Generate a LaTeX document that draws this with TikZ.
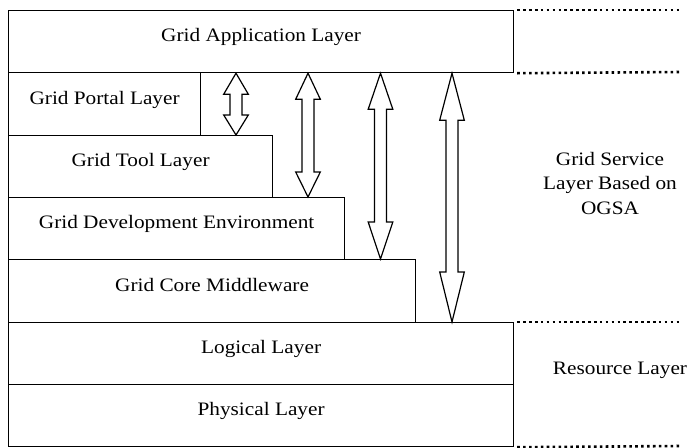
\documentclass[tikz,border=0pt]{standalone}
\usepackage{fontspec}
\setmainfont{Liberation Serif}[FakeStretch=1.12]
\usetikzlibrary{calc}

% outlined double-headed block arrow between two named points
% #1 top point, #2 bottom point, #3 top head length, #4 bottom head length
\newcommand\blockarrow[4]{%
  \draw[blockarr] let \p1=(#1), \p2=(#2) in
    (\p1) -- (\x1+12.3pt,\y1-#3pt) -- (\x1+6pt,\y1-#3pt)
    -- (\x1+6pt,\y2+#4pt) -- (\x1+12.3pt,\y2+#4pt) -- (\p2)
    -- (\x1-12.3pt,\y2+#4pt) -- (\x1-6pt,\y2+#4pt)
    -- (\x1-6pt,\y1-#3pt) -- (\x1-12.3pt,\y1-#3pt) -- cycle;}

\begin{document}
\begin{tikzpicture}[x=1pt,y=-1pt,
  every node/.style={font=\fontsize{19}{24.5}\selectfont},
  layer/.style={draw=black, line width=1.2pt, anchor=north west, inner sep=0pt,
                text height=7pt, text depth=7pt},
  sidetext/.style={align=center, inner sep=0pt},
  dotline/.style={line width=2.6pt, dash pattern=on 2.6pt off 3.3pt},
  blockarr/.style={draw=black, fill=white, line width=1.2pt, miter limit=20}]

\useasboundingbox (0,0) rectangle (692,447);

% stacked layers
\node[layer, minimum width=505pt, minimum height=62pt] (app)      at (8,10)  {Grid Application Layer};
\node[layer, minimum width=192pt, minimum height=63pt] (portal)   at (8,72)  {Grid Portal Layer};
\node[layer, minimum width=264pt, minimum height=62pt] (tool)     at (8,135) {Grid Tool Layer};
\node[layer, minimum width=336pt, minimum height=62pt] (dev)      at (8,197) {Grid Development Environment};
\node[layer, minimum width=407pt, minimum height=63pt] (core)     at (8,259) {Grid Core Middleware};
\node[layer, minimum width=505pt, minimum height=62pt] (logical)  at (8,322) {Logical Layer};
\node[layer, minimum width=505pt, minimum height=62pt] (physical) at (8,384) {Physical Layer};

% dotted guide lines on the right
\coordinate (d1) at (680,10);
\coordinate (d2) at (680,72);
\coordinate (d3) at (680,322);
\coordinate (d4) at (680,446);
\draw[dotline] ($(app.north east)+(3,0)$) -- (d1);
\draw[dotline] ($(app.south east)+(3,0)$) -- (d2);
\draw[dotline] ($(logical.north east)+(3,0)$) -- (d3);
\draw[dotline] ($(physical.south east)+(3,0)$) -- (d4);

% side labels (base anchor sits on the last line)
\node[sidetext, anchor=base] (gsl) at (610,214) {Grid Service\\Layer Based on\\OGSA};
\node[anchor=base, inner sep=0pt] (res) at (620,374) {Resource Layer};

% arrow end points
\coordinate (a1t) at (236,0 |- app.south);
\coordinate (a1b) at (236,0 |- tool.north);
\coordinate (a2t) at (308,0 |- app.south);
\coordinate (a2b) at (308,0 |- dev.north);
\coordinate (a3t) at (380.5,0 |- app.south);
\coordinate (a3b) at (380.5,0 |- core.north);
\coordinate (a4t) at (452,0 |- app.south);
\coordinate (a4b) at (452,0 |- logical.north);

\blockarrow{a1t}{a1b}{21}{20}
\blockarrow{a2t}{a2b}{26}{25}
\blockarrow{a3t}{a3b}{36}{37}
\blockarrow{a4t}{a4b}{47}{50}
\end{tikzpicture}
\end{document}
